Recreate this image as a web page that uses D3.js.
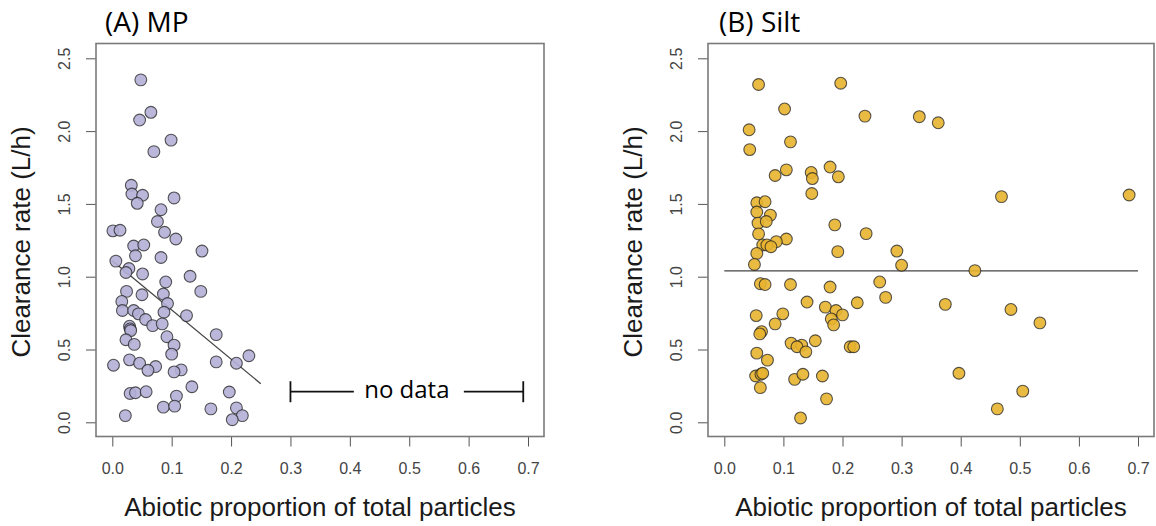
<!DOCTYPE html>
<html>
<head>
<meta charset="utf-8">
<script src="https://cdn.jsdelivr.net/npm/d3@7"></script>
<style>
  body { margin: 0; background: #fff; }
  svg { display: block; }
  .tick text { font-family: "Liberation Sans", Arial, sans-serif; font-size: 16px; fill: #444; }
  .tick line { stroke: #555; }
  .axis-title { font-family: "Liberation Sans", Arial, sans-serif; font-size: 26px; fill: #1a1a1a; }
  .panel-title { font-family: "Open Sans", sans-serif; font-size: 28px; fill: #000; }
</style>
</head>
<body>
<svg width="1156" height="526"></svg>
<script>
// tick values
var xTicks = [0, 0.1, 0.2, 0.3, 0.4, 0.5, 0.6, 0.7];
var yTicks = [0, 0.5, 1.0, 1.5, 2.0, 2.5];

// (A) MP
var mpX = [0.048, 0.065, 0.046, 0.099, 0.070, 0.032, 0.033, 0.051, 0.042, 0.104,
           0.082, 0.076, 0.001, 0.013, 0.088, 0.107, 0.036, 0.053, 0.151, 0.039,
           0.082, 0.006, 0.028, 0.023, 0.051, 0.131, 0.090, 0.024, 0.149, 0.086,
           0.050, 0.016, 0.093, 0.017, 0.036, 0.044, 0.087, 0.125, 0.056, 0.068,
           0.084, 0.029, 0.030, 0.031, 0.175, 0.092, 0.023, 0.104, 0.037, 0.100,
           0.230, 0.029, 0.175, 0.209, 0.046, 0.002, 0.073, 0.060, 0.116, 0.104,
           0.134, 0.197, 0.030, 0.039, 0.057, 0.108, 0.086, 0.105, 0.166, 0.209,
           0.219, 0.022, 0.202];
var mpY = [2.352, 2.129, 2.076, 1.938, 1.859, 1.628, 1.568, 1.559, 1.504, 1.541,
           1.460, 1.379, 1.315, 1.319, 1.305, 1.259, 1.211, 1.218, 1.176, 1.144,
           1.132, 1.107, 1.056, 1.029, 1.019, 1.003, 0.964, 0.899, 0.899, 0.881,
           0.876, 0.830, 0.816, 0.768, 0.768, 0.745, 0.756, 0.733, 0.706, 0.664,
           0.676, 0.660, 0.641, 0.630, 0.602, 0.588, 0.567, 0.530, 0.535, 0.468,
           0.457, 0.429, 0.415, 0.406, 0.406, 0.392, 0.383, 0.357, 0.360, 0.346,
           0.244, 0.208, 0.198, 0.203, 0.210, 0.180, 0.104, 0.111, 0.092, 0.099,
           0.046, 0.046, 0.018];
var mpLineX = [0.0, 0.25];
var mpLineY = [1.11, 0.265];

// (B) Silt
var siltX = [0.058, 0.197, 0.102, 0.238, 0.330, 0.362, 0.042, 0.043, 0.112, 0.179,
             0.105, 0.147, 0.149, 0.086, 0.193, 0.148, 0.469, 0.685, 0.055, 0.069,
             0.055, 0.078, 0.057, 0.071, 0.187, 0.058, 0.240, 0.105, 0.088, 0.065,
             0.072, 0.079, 0.055, 0.192, 0.292, 0.051, 0.300, 0.424, 0.263, 0.112,
             0.061, 0.069, 0.179, 0.273, 0.140, 0.225, 0.374, 0.485, 0.171, 0.189,
             0.200, 0.181, 0.185, 0.054, 0.099, 0.086, 0.534, 0.063, 0.060, 0.113,
             0.131, 0.123, 0.154, 0.138, 0.213, 0.219, 0.055, 0.073, 0.397, 0.053,
             0.062, 0.065, 0.119, 0.133, 0.166, 0.061, 0.505, 0.173, 0.462, 0.129];
var siltY = [2.320, 2.329, 2.152, 2.103, 2.099, 2.057, 2.009, 1.873, 1.926, 1.753,
             1.734, 1.716, 1.674, 1.695, 1.686, 1.571, 1.550, 1.561, 1.508, 1.515,
             1.444, 1.423, 1.368, 1.379, 1.356, 1.294, 1.296, 1.259, 1.241, 1.218,
             1.218, 1.206, 1.160, 1.172, 1.176, 1.084, 1.079, 1.042, 0.964, 0.946,
             0.952, 0.946, 0.929, 0.858, 0.826, 0.821, 0.810, 0.775, 0.791, 0.768,
             0.738, 0.710, 0.669, 0.733, 0.745, 0.676, 0.683, 0.623, 0.607, 0.544,
             0.530, 0.519, 0.560, 0.484, 0.519, 0.519, 0.475, 0.427, 0.337, 0.318,
             0.330, 0.337, 0.295, 0.330, 0.318, 0.238, 0.214, 0.161, 0.092, 0.030];
var siltLineX = [0.0, 0.7];
var siltLineY = [1.04, 1.04];

// "no data" range in panel A
var noDataX = [0.3, 0.692];
var noDataY = 0.21;

var svg = d3.select("svg");

function drawPanel(opt) {
  var g = svg.append("g");
  var x = d3.scaleLinear().domain([0, 0.7]).range([opt.left + 16.3, opt.right - 16]);
  var y = d3.scaleLinear().domain([0, 2.5]).range([422.3, 58.3]);
  var top = 43.5, bottom = 436.5;

  // x axis
  var xa = g.append("g")
    .attr("transform", "translate(0," + bottom + ")")
    .call(d3.axisBottom(x).tickValues(xTicks).tickFormat(d3.format(".1f"))
      .tickSize(10).tickPadding(16));
  xa.select(".domain").remove();
  xa.selectAll("text").attr("fill", null);
  xa.selectAll("line").attr("stroke", null);

  // y axis, rotated labels like base R
  var ya = g.append("g")
    .attr("transform", "translate(" + opt.left + ",0)")
    .call(d3.axisLeft(y).tickValues(yTicks).tickFormat(d3.format(".1f")).tickSize(10));
  ya.select(".domain").remove();
  ya.selectAll("line").attr("stroke", null);
  ya.selectAll("text")
    .attr("fill", null)
    .attr("transform", "rotate(-90)")
    .attr("x", 0).attr("y", -26).attr("dy", 0)
    .attr("text-anchor", "middle");

  // box
  g.append("rect")
    .attr("x", opt.left).attr("y", top)
    .attr("width", opt.right - opt.left).attr("height", bottom - top)
    .attr("fill", "none").attr("stroke", "#7a7a7a").attr("stroke-width", 1.6);

  // fitted line
  var line = d3.line().x(function(d) { return x(d[0]); }).y(function(d) { return y(d[1]); });
  g.append("path")
    .datum(d3.zip(opt.lineX, opt.lineY))
    .attr("d", line)
    .attr("fill", "none").attr("stroke", "#444").attr("stroke-width", 1.3);

  // points
  g.append("g").selectAll("circle")
    .data(d3.zip(opt.xs, opt.ys))
    .enter().append("circle")
    .attr("cx", function(d) { return x(d[0]); })
    .attr("cy", function(d) { return y(d[1]); })
    .attr("r", 5.9)
    .attr("fill", opt.color).attr("fill-opacity", 0.9)
    .attr("stroke", "#222").attr("stroke-opacity", 0.75).attr("stroke-width", 1.1);

  // titles
  g.append("text").attr("class", "panel-title")
    .attr("x", opt.titleX).attr("y", 31.5).text(opt.title);
  g.append("text").attr("class", "axis-title")
    .attr("x", (opt.left + opt.right) / 2).attr("y", 516)
    .attr("text-anchor", "middle")
    .text("Abiotic proportion of total particles");
  g.append("text").attr("class", "axis-title")
    .attr("transform", "translate(" + (opt.left - 66) + "," + 242 + ") rotate(-90)")
    .attr("text-anchor", "middle")
    .text("Clearance rate (L/h)");

  return { g: g, x: x, y: y };
}

var pa = drawPanel({ left: 96, right: 544, xs: mpX, ys: mpY, lineX: mpLineX, lineY: mpLineY,
  color: "#b3afd6", title: "(A) MP", titleX: 105 });
drawPanel({ left: 708, right: 1154, xs: siltX, ys: siltY, lineX: siltLineX, lineY: siltLineY,
  color: "#e8b42f", title: "(B) Silt", titleX: 719 });

// "no data" bracket
var bx0 = pa.x(noDataX[0]), bx1 = pa.x(noDataX[1]), by = pa.y(noDataY);
var mid = (bx0 + bx1) / 2;
var br = pa.g.append("g").attr("stroke", "#111").attr("stroke-width", 1.8);
br.append("line").attr("x1", bx0).attr("x2", bx0).attr("y1", by - 10.5).attr("y2", by + 10.5);
br.append("line").attr("x1", bx1).attr("x2", bx1).attr("y1", by - 10.5).attr("y2", by + 10.5);
br.append("line").attr("x1", bx0).attr("x2", mid - 53).attr("y1", by).attr("y2", by);
br.append("line").attr("x1", mid + 57).attr("x2", bx1).attr("y1", by).attr("y2", by);
pa.g.append("text")
  .attr("x", mid).attr("y", by + 6)
  .attr("text-anchor", "middle")
  .style("font-family", "'Open Sans', sans-serif").style("font-size", "24px")
  .text("no data");
</script>
</body>
</html>
